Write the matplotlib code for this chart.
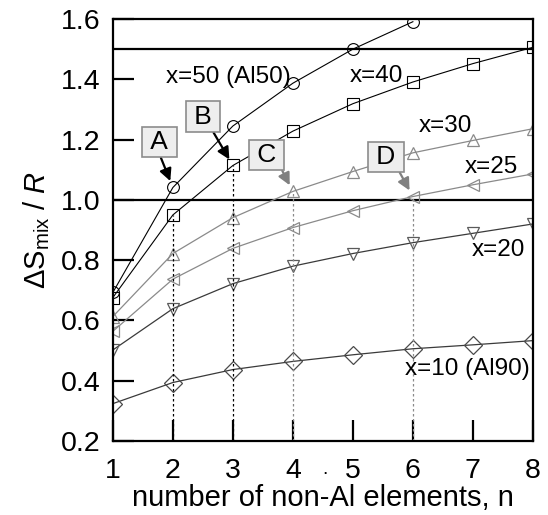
import numpy as np
import matplotlib
matplotlib.use("Agg")
import matplotlib.pyplot as plt

plt.rcParams['font.family'] = ['Liberation Sans', 'DejaVu Sans']
plt.rcParams['mathtext.fontset'] = 'custom'
plt.rcParams['mathtext.rm'] = 'Liberation Sans'
plt.rcParams['mathtext.it'] = 'Liberation Sans:italic'

## data ##
n_vals = [1, 2, 3, 4, 5, 6, 7, 8]
x50 = [0.693, 1.041, 1.245, 1.387, 1.500, 1.591]          # circles, ends at n=6
x40 = [0.676, 0.950, 1.114, 1.228, 1.319, 1.391, 1.452, 1.506]
x30 = [0.613, 0.822, 0.941, 1.028, 1.094, 1.156, 1.197, 1.236]
x25 = [0.564, 0.737, 0.839, 0.908, 0.964, 1.011, 1.050, 1.086]
x20 = [0.502, 0.639, 0.722, 0.780, 0.822, 0.858, 0.889, 0.920]
x10 = [0.324, 0.394, 0.437, 0.464, 0.486, 0.506, 0.519, 0.533]

xticks = [1, 2, 3, 4, 5, 6, 7, 8]
yticks = [0.2, 0.4, 0.6, 0.8, 1.0, 1.2, 1.4, 1.6]
hlines = [1.0, 1.5]

fig = plt.figure(figsize=(5.48, 5.15), dpi=100)
ax = fig.add_axes([0.206, 0.1437, 0.7664, 0.8194])

## curves ##
ax.plot(n_vals[:len(x50)], x50, '-o', color='black', lw=0.8, ms=8.5, mfc='none', mew=0.8)
ax.plot(n_vals, x40, '-s', color='black', lw=0.8, ms=8, mfc='none', mew=0.8)
ax.plot(n_vals, x30, '-^', color='#8a8a8a', lw=0.9, ms=9, mfc='none', mew=0.9)
ax.plot(n_vals, x25, '-<', color='#8a8a8a', lw=0.9, ms=9, mfc='none', mew=0.9)
ax.plot(n_vals, x20, '-v', color='#3a3a3a', lw=0.9, ms=9, mfc='none', mec='#5a5a5a', mew=0.9)
ax.plot(n_vals, x10, '-D', color='#3a3a3a', lw=0.9, ms=9, mfc='none', mec='#4a4a4a', mew=0.9)

## thresholds ##
for h in hlines:
    ax.axhline(h, color='black', lw=1.6, zorder=1)

## dotted drop lines ##
dots = (0, (2, 2))
ax.plot([2, 2], [0.2, x40[1]], ls=dots, color='black', lw=0.9)
ax.plot([3, 3], [0.2, x40[2]], ls=dots, color='black', lw=0.9)
ax.plot([4, 4], [0.2, x30[3]], ls=dots, color='#8a8a8a', lw=0.9)
ax.plot([6, 6], [0.2, x25[5]], ls=dots, color='#8a8a8a', lw=0.9)

## labels on curves ##
lab_kw = dict(fontsize=17.5, ha='center', va='center')
ax.text(2.93, 1.407, 'x=50 (Al50)', **lab_kw)
ax.text(5.40, 1.41, 'x=40', **lab_kw)
ax.text(6.54, 1.245, 'x=30', **lab_kw)
ax.text(7.30, 1.11, 'x=25', **lab_kw)
ax.text(7.42, 0.835, 'x=20', **lab_kw)
ax.text(6.90, 0.44, 'x=10 (Al90)', **lab_kw)

## boxed letters with arrows ##
box = dict(boxstyle='square,pad=0.12', fc='#eeeeee', ec='#8c8c8c', lw=1.2)
marks = [('A', 1.775, 1.192, 2, x50[1], 'black', 0.5),
         ('B', 2.50, 1.276, 3, x40[2], 'black', 0.8),
         ('C', 3.56, 1.149, 4, x30[3], '#808080', 0.97),
         ('D', 5.55, 1.143, 6, x25[5], '#808080', 0.9)]
for letter, tx, ty, px, py, col, rx in marks:
    ax.annotate('\u2009' + letter + '\u2009', xy=(px, py), xytext=(tx, ty),
                fontsize=19, ha='center', va='center', bbox=box,
                arrowprops=dict(arrowstyle='-|>,head_length=0.6,head_width=0.3',
                                mutation_scale=12, color=col, lw=1.6,
                                shrinkA=0, shrinkB=5, relpos=(rx, 0.0)))

## axes styling ##
ax.set_xlim(1, 8)
ax.set_ylim(0.2, 1.6)
ax.set_xticks(xticks)
ax.set_yticks(yticks)
ax.set_yticklabels(['%.1f' % v for v in yticks])
ax.tick_params(axis='both', direction='in', length=15, width=1.6, labelsize=20.5)
ax.tick_params(axis='x', pad=12)
ax.tick_params(axis='y', pad=9)
for s in ax.spines.values():
    s.set_linewidth(1.6)

ax.set_xlabel('number of non-Al elements, n', fontsize=21, labelpad=0)
ax.set_ylabel(r'$\Delta\mathrm{S}_{\mathrm{mix}}$ / $R$', fontsize=21, labelpad=6)

# stray dot between 4 and 5 in the original
ax.text(4.53, 0.09, '.', fontsize=14, ha='center', va='baseline', clip_on=False)

fig.savefig('out.png', dpi=100)
